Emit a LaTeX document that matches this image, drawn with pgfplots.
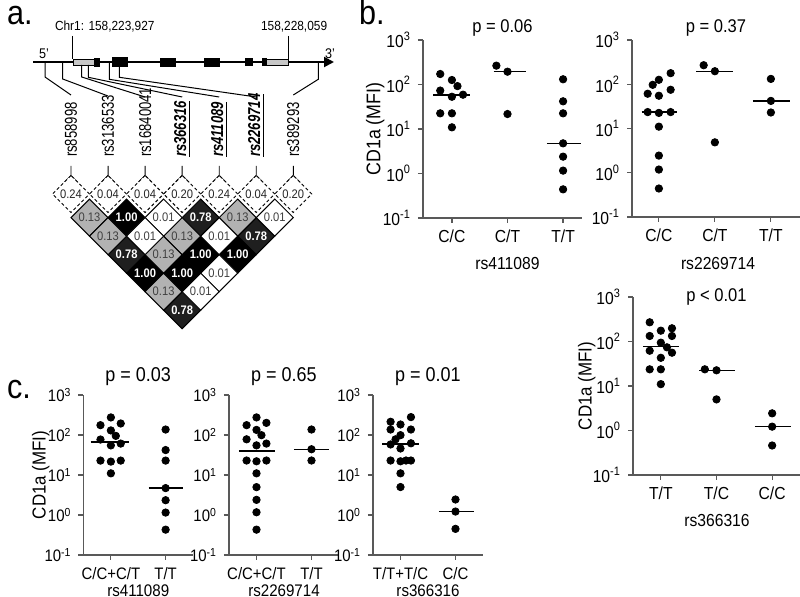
\documentclass[border=0pt]{standalone}
\usepackage{fontspec}
\setmainfont{Liberation Sans}[FakeStretch=0.9]
\usepackage{pgfplots}
\pgfplotsset{compat=1.18}
\usetikzlibrary{arrows.meta}

\newcommand{\fsz}[1]{\fontsize{#1}{#1}\selectfont}
\newcommand{\snpf}{\fontsize{8.6}{8.6}\selectfont\addfontfeatures{FakeStretch=0.76}}

\pgfplotsset{
  dotaxis/.style={
    scale only axis, anchor=south west, clip=false, enlargelimits=false,
    ytick={0.1,1,10,100,1000},
    yticklabels={10\textsuperscript{-1},10\textsuperscript{0},10\textsuperscript{1},10\textsuperscript{2},10\textsuperscript{3}},
    axis x line=bottom, axis y line=left,
    axis line style={-, line width=0.7pt, black!65},
    tick style={line width=0.6pt, black!65},
    tick align=outside, major tick length=2.5pt,
  },
  bfont/.style={
    tick label style={font=\fsz{8.7}},
    xlabel style={font=\fsz{8.7}},
    ylabel style={font=\fsz{9.4}},
    title style={font=\fsz{9.2}, at={(axis description cs:0.5,1)}, anchor=base, yshift=-2.5pt},
  },
  cfont/.style={
    tick label style={font=\fsz{8.3}},
    xlabel style={font=\fsz{8.4}, at={(axis description cs:0.5,-0.222)}, anchor=center},
    ylabel style={font=\fsz{9.4}},
    title style={font=\fsz{10}, at={(axis description cs:0.5,1)}, anchor=base, yshift=0.5pt},
    xmin=-0.5, xmax=1.5, xtick={0,1},
  },
  dotmarks/.style={only marks, mark=*, mark size=1.85pt, mark options={fill=black, draw=black}},
  medline/.style={black, line width=0.65pt},
  ldcell/.style={only marks, mark=square*, mark size=6.55pt,
    point meta=explicit symbolic, nodes near coords, nodes near coords align={center}},
}

\begin{document}
\begin{tikzpicture}
\useasboundingbox (0,0) rectangle (400pt,-298.5pt);

% ---------------- panel a (canvas in pixel units) ----------------
\begin{axis}[at={(0pt,0pt)}, anchor=north west, x=0.5pt, y=0.5pt, y dir=reverse,
  xmin=0, xmax=800, ymin=0, ymax=597, hide axis, clip=false, enlargelimits=false,
  unbounded coords=jump]

% gene backbone
\addplot[black, line width=1pt, -{Triangle[length=5pt, width=5pt]}] coordinates {(33,62) (334,62)};
% exons
\addplot[draw=black, fill=black!22, line width=0.4pt] coordinates {(73,59.2) (94,59.2) (94,65.2) (73,65.2)} -- cycle;
\addplot[draw=black, fill=black, line width=0.4pt] coordinates {(94,58.2) (99,58.2) (99,66) (94,66)} -- cycle;
\addplot[draw=black, fill=black, line width=0.4pt] coordinates {(112,57.5) (127,57.5) (127,66) (112,66)} -- cycle;
\addplot[draw=black, fill=black, line width=0.4pt] coordinates {(160,58) (175,58) (175,66) (160,66)} -- cycle;
\addplot[draw=black, fill=black, line width=0.4pt] coordinates {(204,58) (219,58) (219,66) (204,66)} -- cycle;
\addplot[draw=black, fill=black, line width=0.4pt] coordinates {(245,58.5) (252,58.5) (252,65.5) (245,65.5)} -- cycle;
\addplot[draw=black, fill=black, line width=0.4pt] coordinates {(262,58.5) (266,58.5) (266,65.5) (262,65.5)} -- cycle;
\addplot[draw=black, fill=black!22, line width=0.4pt] coordinates {(266,59.2) (288,59.2) (288,65.2) (266,65.2)} -- cycle;
% genomic position markers
\addplot[black, line width=0.5pt] coordinates {(72.7,36) (72.7,59) (nan,nan) (288.3,36) (288.3,59)};
\node[font=\fsz{6.6}, anchor=base west] at (axis cs:48,30.5) {Chr1: 158,223,927};
\node[font=\fsz{6.6}, anchor=base west] at (axis cs:254,30.5) {158,228,059};
\node[font=\fsz{7}, anchor=base west] at (axis cs:32,59) {5'};
\node[font=\fsz{7}, anchor=base west] at (axis cs:318,59) {3'};

% SNP connectors
\addplot[black, line width=0.5pt] coordinates {
 (45,62) (45,77) (71,95) (nan,nan)
 (62.7,62) (62.7,79) (108,96) (nan,nan)
 (81.7,65) (81.7,77) (145.1,97) (nan,nan)
 (88.3,65) (88.3,77.3) (182.2,97) (nan,nan)
 (109.3,63) (109.3,79.3) (219.2,97) (nan,nan)
 (119.3,65) (119.3,77.3) (256.3,97) (nan,nan)
 (318.3,62) (318.3,79.3) (293.3,95)};

% SNP names
\node[font=\snpf, rotate=90, anchor=west] at (axis cs:71,164) {rs858998};
\node[font=\snpf, rotate=90, anchor=west] at (axis cs:108.05,164) {rs3136533};
\node[font=\snpf, rotate=90, anchor=west] at (axis cs:145.1,164) {rs16840041};
\node[font=\snpf, rotate=90, anchor=west] at (axis cs:182.15,164) {\underline{\textbf{\textit{rs366316}}}};
\node[font=\snpf, rotate=90, anchor=west] at (axis cs:219.2,164) {\underline{\textbf{\textit{rs411089}}}};
\node[font=\snpf, rotate=90, anchor=west] at (axis cs:256.25,164) {\underline{\textbf{\textit{rs2269714}}}};
\node[font=\snpf, rotate=90, anchor=west] at (axis cs:293.3,164) {rs389293};

% dashed single-SNP diamonds
\addplot[ldcell, mark options={rotate=45, draw=black, fill=white, line width=0.45pt, dash pattern=on 1.6pt off 1.2pt},
  every node near coord/.append style={font=\fsz{6.2}, text=black!85}] coordinates {
 (71,194) [0.24] (108.05,194) [0.04] (145.1,194) [0.04] (182.15,194) [0.20]
 (219.2,194) [0.24] (256.25,194) [0.04] (293.3,194) [0.20]};
% stems
\addplot[black, line width=0.45pt] coordinates {
 (71,166) (71,175.5) (nan,nan) (64,182.5) (71,175.5) (78,182.5) (nan,nan)
 (108.05,166) (108.05,175.5) (nan,nan) (101.05,182.5) (108.05,175.5) (115.05,182.5) (nan,nan)
 (145.1,166) (145.1,175.5) (nan,nan) (138.1,182.5) (145.1,175.5) (152.1,182.5) (nan,nan)
 (182.15,166) (182.15,175.5) (nan,nan) (175.15,182.5) (182.15,175.5) (189.15,182.5) (nan,nan)
 (219.2,166) (219.2,175.5) (nan,nan) (212.2,182.5) (219.2,175.5) (226.2,182.5) (nan,nan)
 (256.25,166) (256.25,175.5) (nan,nan) (249.25,182.5) (256.25,175.5) (263.25,182.5) (nan,nan)
 (293.3,166) (293.3,175.5) (nan,nan) (286.3,182.5) (293.3,175.5) (300.3,182.5)};

% LD cells r^2 = 1.00
\addplot[ldcell, mark options={rotate=45, draw=black, fill=black, line width=0.5pt},
  every node near coord/.append style={font=\bfseries\fsz{6.2}, text=white}] coordinates {
 (126.6,217.6) [1.00] (200.7,254.7) [1.00] (237.7,254.7) [1.00]
 (145.1,273.2) [1.00] (182.15,273.2) [1.00]};
% r^2 = 0.78
\addplot[ldcell, mark options={rotate=45, draw=black, fill=black!88, line width=0.5pt},
  every node near coord/.append style={font=\bfseries\fsz{6.2}, text=white}] coordinates {
 (200.7,217.6) [0.78] (256.25,236.15) [0.78] (126.6,254.7) [0.78] (182.15,310.25) [0.78]};
% r^2 = 0.13
\addplot[ldcell, mark options={rotate=45, draw=black, fill=black!30, line width=0.5pt},
  every node near coord/.append style={font=\fsz{6.2}, text=black!75}] coordinates {
 (89.5,217.6) [0.13] (237.7,217.6) [0.13] (108.05,236.15) [0.13] (182.15,236.15) [0.13]
 (163.6,254.7) [0.13] (163.6,291.7) [0.13]};
% r^2 = 0.01
\addplot[ldcell, mark options={rotate=45, draw=black, fill=white, line width=0.5pt},
  every node near coord/.append style={font=\fsz{6.2}, text=black!75}] coordinates {
 (163.6,217.6) [0.01] (274.8,217.6) [0.01] (145.1,236.15) [0.01] (219.2,236.15) [0.01]
 (219.2,273.2) [0.01] (200.7,291.7) [0.01]};

% panel letters
\node[font=\fsz{17}, anchor=base west] at (axis cs:0,25) {a.};
\node[font=\fsz{17}, anchor=base west] at (axis cs:352,25) {b.};
\node[font=\fsz{17}, anchor=base west] at (axis cs:0,399) {c.};
\end{axis}

% ---------------- panel b ----------------
\begin{axis}[ymode=log, ymin=0.1, ymax=1000, yminorticks=false, dotaxis, bfont,
  at={(211.5pt,-109pt)}, width=79.5pt, height=89pt,
  xmin=-0.52, xmax=2.34, xtick={0,1,2}, xticklabels={C/C,C/T,T/T},
  xlabel={rs411089}, xlabel style={at={(axis description cs:0.531,-0.253)}, anchor=center},
  ylabel={CD1a (MFI)}, ylabel style={font=\fsz{9.9}, at={(axis description cs:-0.30,0.5)}, anchor=center},
  title={p = 0.06}]
\addplot[dotmarks] coordinates {(-0.21,172) (0,126) (0.10,92) (-0.21,73) (0,53) (0.20,59) (-0.21,22.5) (0,22.5) (0,10.9)};
\addplot[dotmarks] coordinates {(0.8,265) (1,194) (1,21.7)};
\addplot[dotmarks] coordinates {(2,131) (2,41.9) (2,22.5) (2,4.76) (2,2.39) (2,1.16) (2,0.44)};
\addplot[medline] coordinates {(-0.34,58) (0.33,58)};
\addplot[medline] coordinates {(0.75,194) (1.34,194)};
\addplot[medline] coordinates {(1.71,4.76) (2.33,4.76)};
\end{axis}

\begin{axis}[ymode=log, ymin=0.1, ymax=1000, yminorticks=false, dotaxis, bfont,
  at={(316pt,-108.5pt)}, width=84pt, height=88.5pt,
  xmin=-0.48, xmax=2.52, xtick={0,1,2}, xticklabels={C/C,C/T,T/T},
  xlabel={rs2269714}, xlabel style={at={(axis description cs:0.512,-0.26)}, anchor=center},
  title={p = 0.37}]
\addplot[dotmarks] coordinates {(0.21,178) (0,126) (-0.11,97) (-0.2,61) (0.21,75) (0,55) (-0.2,23.5) (0,22.5) (0.21,23.5) (0,11) (0,2.44) (0,1.18) (0,0.44)};
\addplot[dotmarks] coordinates {(0.8,269) (1,197) (1,4.86)};
\addplot[dotmarks] coordinates {(2,132) (2,42) (2,23)};
\addplot[medline] coordinates {(-0.31,23.5) (0.33,23.5)};
\addplot[medline] coordinates {(0.67,197) (1.33,197)};
\addplot[medline] coordinates {(1.68,42) (2.34,42)};
\end{axis}

\begin{axis}[ymode=log, ymin=0.1, ymax=1000, yminorticks=false, dotaxis, bfont,
  at={(316.5pt,-237.5pt)}, width=83.5pt, height=89pt,
  xmin=-0.5, xmax=2.5, xtick={0,1,2}, xticklabels={T/T,T/C,C/C},
  xlabel={rs366316}, xlabel style={at={(axis description cs:0.503,-0.253)}, anchor=center},
  ylabel={CD1a (MFI)}, ylabel style={at={(axis description cs:-0.277,0.5)}, anchor=center},
  title={p < 0.01}, title style={yshift=-6pt}]
\addplot[dotmarks] coordinates {(-0.2,270) (0,175) (0.2,198) (-0.2,133) (0,94) (0.2,133) (0.11,74) (-0.2,62) (0.2,56) (0,43) (-0.2,23.7) (0,23.7) (0,11)};
\addplot[dotmarks] coordinates {(0.79,23.7) (1,22.5) (1,5.0)};
\addplot[dotmarks] coordinates {(2,2.43) (2,1.22) (2,0.46)};
\addplot[medline] coordinates {(-0.32,76) (0.33,76)};
\addplot[medline] coordinates {(0.69,22.5) (1.33,22.5)};
\addplot[medline] coordinates {(1.69,1.22) (2.33,1.22)};
\end{axis}

% ---------------- panel c ----------------
\begin{axis}[ymode=log, ymin=0.1, ymax=1000, yminorticks=false, dotaxis, cfont,
  at={(41.75pt,-277.5pt)}, width=54.75pt, height=80pt,
  xticklabels={C/C+C/T,T/T}, xlabel={rs411089},
  ylabel={CD1a (MFI)}, ylabel style={at={(axis description cs:-0.39,0.5)}, anchor=center},
  title={p = 0.03}]
\addplot[dotmarks] coordinates {(0,275) (-0.19,176) (0.18,194) (0,130) (0.09,95) (-0.19,77) (0,55) (0.18,61) (-0.19,22.9) (0,21.6) (0.18,22.9) (0,11)};
\addplot[dotmarks] coordinates {(1,137) (1,42) (1,22.9) (1,4.7) (1,2.34) (1,1.15) (1,0.43)};
\addplot[medline] coordinates {(-0.37,67) (0.34,67)};
\addplot[medline] coordinates {(0.69,4.7) (1.32,4.7)};
\end{axis}

\begin{axis}[ymode=log, ymin=0.1, ymax=1000, yminorticks=false, dotaxis, cfont,
  at={(114.5pt,-277.5pt)}, width=55pt, height=80pt,
  xticklabels={C/C+C/T,T/T}, xlabel={rs2269714},
  title={p = 0.65}]
\addplot[dotmarks] coordinates {(0,275) (-0.18,176) (0.18,201) (0,134) (0.09,99) (-0.18,78) (0.18,61) (0,55) (-0.18,23) (0,22) (0.18,23) (0,11) (0,4.97) (0,2.39) (0,1.17) (0,0.43)};
\addplot[dotmarks] coordinates {(1,137) (1,44) (1,23)};
\addplot[medline] coordinates {(-0.32,40) (0.33,40)};
\addplot[medline] coordinates {(0.68,44) (1.32,44)};
\end{axis}

\begin{axis}[ymode=log, ymin=0.1, ymax=1000, yminorticks=false, dotaxis, cfont,
  at={(186.5pt,-277.5pt)}, width=55pt, height=80pt,
  xticklabels={T/T+T/C,C/C}, xlabel={rs366316},
  title={p = 0.01}]
\addplot[dotmarks] coordinates {(-0.18,214) (0.19,280) (0,183) (-0.18,137) (0.19,137) (0,99) (-0.09,78) (-0.18,58) (0.19,62) (0,46) (-0.18,23) (0,22) (0.1,23) (0.19,23) (0,11) (0,5)};
\addplot[dotmarks] coordinates {(1,2.44) (1,1.22) (1,0.45)};
\addplot[medline] coordinates {(-0.33,60) (0.33,60)};
\addplot[medline] coordinates {(0.7,1.22) (1.34,1.22)};
\end{axis}
\end{tikzpicture}
\end{document}
